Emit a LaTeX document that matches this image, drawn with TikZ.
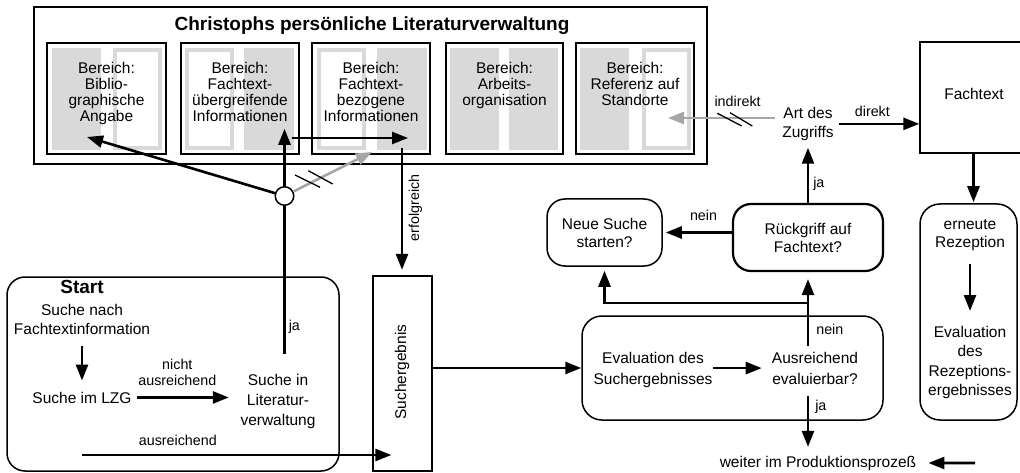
\documentclass[tikz,border=0pt]{standalone}
\usepackage{fontspec}
\setmainfont{Liberation Sans}
\usepackage{tikz}
\usetikzlibrary{arrows.meta}

\begin{document}
\begin{tikzpicture}[x=1pt,y=-1pt,
		txt/.style={inner sep=0pt,align=center,font=\fontsize{15.5}{16}\selectfont},
		txtw/.style={inner sep=0pt,align=center,font=\fontsize{15.5}{19.5}\selectfont},
		fett/.style={inner sep=0pt,font=\fontsize{19}{22}\selectfont\bfseries},
		marke/.style={inner sep=0pt,align=center,font=\fontsize{14.3}{16}\selectfont},
		kasten/.style={draw=black,line width=1.3pt,inner sep=0pt},
		rund/.style={draw=black,line width=1.5pt,rounded corners=18pt,inner sep=0pt,align=center,font=\fontsize{15.5}{18}\selectfont},
		linie/.style={line width=2.6pt},
		pfeil/.style={linie,-{Triangle[length=16pt,width=12pt]}},
		grau/.style={pfeil,draw=black!35},
		strich/.style={line width=1.3pt},
		hell/.style={fill=black!15},
		hellrand/.style={draw=black!15,line width=4pt}]
		\useasboundingbox (0,0) rectangle (1020,473);

		\path[draw=black,line width=1.3pt] (34,7) rectangle (707,164);
		\node[fett,anchor=base] (titel) at (372,31) {Christophs persönliche Literaturverwaltung};

		\path[draw=black,line width=1.3pt] (47,43) rectangle (166,154);
		\path[hell] (52,48) rectangle (101,150);
		\path[hellrand] (115,50) rectangle (160,148);
		\path[draw=black,line width=1.3pt] (181,43) rectangle (299,154);
		\path[hellrand] (187,50) rectangle (232,148);
		\path[hell] (244,48) rectangle (294,150);
		\path[draw=black,line width=1.3pt] (312,43) rectangle (430,154);
		\path[hellrand] (319,50) rectangle (364,148);
		\path[hell] (377,48) rectangle (427,150);
		\path[draw=black,line width=1.3pt] (446,43) rectangle (563,154);
		\path[hell] (450,48) rectangle (499,150);
		\path[hell] (509,48) rectangle (558,150);
		\path[draw=black,line width=1.3pt] (576,43) rectangle (694,154);
		\path[hell] (580,48) rectangle (629,150);
		\path[hellrand] (644,50) rectangle (689,148);

		\node[txt,anchor=north] (bib) at (106.5,62) {Bereich:\\Biblio-\\graphische\\Angabe};
		\node[txt,anchor=north] (uebergr) at (240,62) {Bereich:\\Fachtext-\\übergreifende\\Informationen};
		\node[txt,anchor=north] (bezogen) at (371,62) {Bereich:\\Fachtext-\\bezogene\\Informationen};
		\node[txt,anchor=north] (arbeit) at (504.5,62) {Bereich:\\Arbeits-\\organisation};
		\node[txt,anchor=north] (standort) at (635,62) {Bereich:\\Referenz auf\\Standorte};

		\path[draw=black,line width=1.5pt,rounded corners=18pt] (7,277) rectangle (339,471);
		\node[fett,anchor=base] (start) at (82,293) {Start};
		\node[txtw,anchor=north] (suchefach) at (82,303.7) {Suche nach\\Fachtextinformation};
		\node[txt,anchor=base] (lzg) at (82,403) {Suche im LZG};
		\node[txtw,font=\fontsize{15.5}{20}\selectfont,anchor=north] (sucheLV) at (278,373.7) {Suche in\\Literatur-\\verwaltung};
		\node[draw=black,fill=white,circle,line width=1.5pt,minimum size=18.5pt,inner sep=0pt] (kreis) at (284.5,196) {};

		\node[kasten,minimum width=59pt,minimum height=195pt] (ergebnis) at (402.5,373.5) {};
		\node[txt,rotate=90] (ergtext) at (402,372) {Suchergebnis};

		\node[txtw,anchor=north] (zugriff) at (808,106.7) {Art des\\Zugriffs};
		\node[kasten,minimum width=107pt,minimum height=111pt] (fachtext) at (973.5,97.5) {};
		\node[txt] (fachtexttxt) at (974,94) {Fachtext};
		\node[rund,line width=2.2pt,minimum width=150pt,minimum height=67pt] (rueckgriff) at (808,237.5) {Rückgriff auf\\Fachtext?};
		\node[rund,minimum width=115pt,minimum height=67pt] (neuesuche) at (604.5,232.5) {Neue Suche\\starten?};
		\node[rund,rounded corners=20pt,minimum width=301pt,minimum height=104pt] (evalbox) at (732.5,368) {};
		\node[txt,font=\fontsize{15.5}{21}\selectfont,anchor=north] (evalsuch) at (653,351.7) {Evaluation des\\Suchergebnisses};
		\node[txt,font=\fontsize{15.5}{21}\selectfont,anchor=north] (ausreichend) at (815,351.7) {Ausreichend\\evaluierbar?};
		\node[rund,rounded corners=20pt,minimum width=97pt,minimum height=216pt] (rezeption) at (968.5,312) {};
		\node[txt,font=\fontsize{15.5}{18}\selectfont,anchor=north] (erneut) at (970,219) {erneute\\Rezeption};
		\node[txtw,anchor=north] (evalrez) at (970,325.7) {Evaluation\\des\\Rezeptions-\\ergebnisses};
		\node[txt,anchor=base] (weiter) at (818,467) {weiter im Produktionsprozeß};

		\coordinate (bibE) at (87,137);
		\coordinate (bezogenG) at (372,152);
		\coordinate (bezogenS) at (402,148);
		\coordinate (abzw) at (292,138);
		\coordinate (bezogenE) at (408,138);
		\coordinate (standortE) at (668,118);
		\coordinate (ausr) at (82,455);
		\coordinate (verzw) at (808,303);
		\coordinate (weiterS) at (975,463);

		\draw[pfeil,shorten <=11pt,shorten >=11pt] (suchefach.south) -- (lzg.north);
		\draw[pfeil,shorten <=5.5pt,shorten >=11.5pt] (lzg.east) -- (lzg.east -| sucheLV.west) node[marke,pos=0.42,above=11pt] {nicht\\ausreichend};
		\draw[pfeil,shorten >=-19pt] (ausr) -- (ausr -| ergebnis.west) node[marke,pos=0.33,above=8.5pt] {ausreichend};
		\draw[linie,shorten <=19.7pt] (kreis.south |- sucheLV.north) -- (kreis.south) node[marke,pos=0.28,right=3pt] {ja};
		\draw[pfeil,shorten >=7pt] (kreis.north) -- (kreis.north |- uebergr.south);
		\draw[pfeil] (abzw) -- (bezogenE);
		\draw[pfeil] (kreis) -- (bibE);
		\draw[grau] (kreis) -- (bezogenG);
		\draw[strich] (295,175) -- (320,187.3);
		\draw[strich] (308.3,170.7) -- (332.7,184);
		\draw[pfeil,shorten >=5.5pt] (bezogenS) -- (bezogenS |- ergebnis.north) node[marke,pos=0.47,rotate=90,anchor=north,inner sep=5.5pt] {erfolgreich};

		\draw[pfeil] (ergebnis.east |- evalbox.west) -- (evalbox.west);
		\draw[pfeil,shorten >=10pt] (evalsuch.east |- ausreichend.west) -- (ausreichend.west);
		\draw[pfeil,shorten <=5.7pt,shorten >=7pt] (rueckgriff.south |- ausreichend.north) -- (rueckgriff.south) node[marke,pos=0.28,right=7pt] {nein};
		\draw[pfeil,shorten >=4pt] (verzw) -| (neuesuche.south);
		\draw[pfeil,shorten >=3pt] (rueckgriff.west |- neuesuche.east) -- (neuesuche.east) node[marke,pos=0.41,above=10.5pt] {nein};
		\draw[pfeil,shorten >=6.7pt] (rueckgriff.north) -- (rueckgriff.north |- zugriff.south) node[marke,pos=0.31,right=4pt] {ja};
		\draw[pfeil,shorten <=5pt] (zugriff.east) -- (zugriff.east -| fachtext.west) node[marke,pos=0.45,above=6pt] {direkt};
		\draw[grau,shorten <=7pt] (standortE -| zugriff.west) -- (standortE) node[marke,pos=0.39,above=10.5pt] {indirekt};
		\draw[strich] (717.3,113.3) -- (741.7,126);
		\draw[strich] (730,112.7) -- (752.3,126);
		\draw[pfeil,shorten >=1pt] (fachtext.south) -- (fachtext.south |- rezeption.north);
		\draw[pfeil,shorten <=13.7pt,shorten >=14.7pt] (erneut.south) -- (evalrez.north);
		\draw[pfeil,shorten <=12pt,shorten >=8.7pt] (rueckgriff.south |- ausreichend.south) -- (rueckgriff.south |- weiter.north) node[marke,pos=0.32,right=6pt] {ja};
		\draw[pfeil,shorten >=12pt] (weiterS) -- (weiter.east);
	\end{tikzpicture}
\end{document}
